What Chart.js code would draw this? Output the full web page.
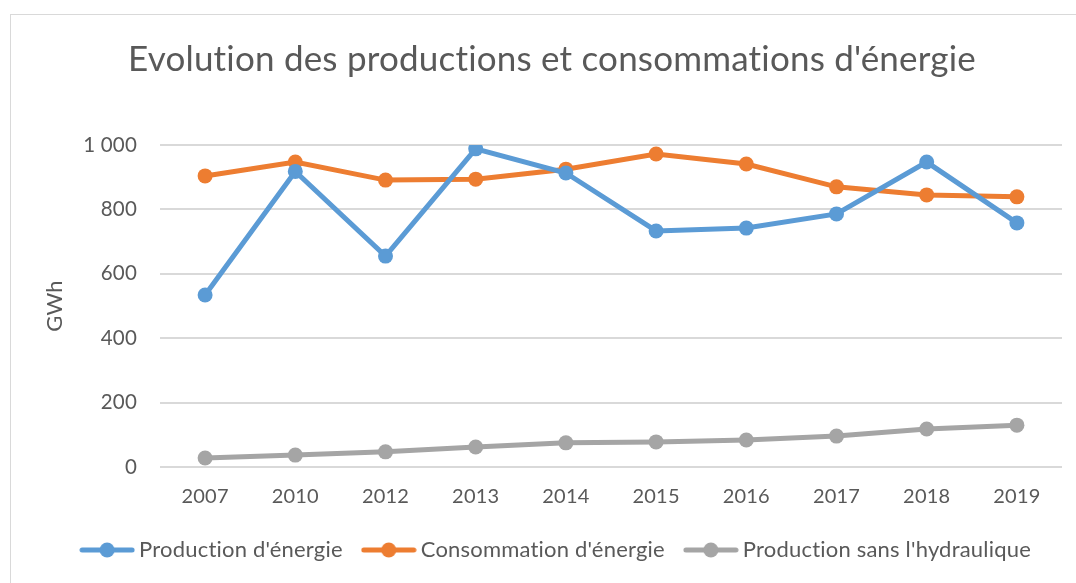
<!DOCTYPE html>
<html>
<head>
<meta charset="utf-8">
<script src="https://cdn.jsdelivr.net/npm/chart.js@4.4.0/dist/chart.umd.min.js"></script>
<style>
  html, body { margin: 0; padding: 0; background: #fff; }
  #wrap { position: relative; width: 1076px; height: 583px; }
  #frame { position: absolute; left: 10px; top: 14px; width: 1080px; height: 600px; border: 1px solid #d9d9d9; box-sizing: border-box; }
  #chart { position: absolute; left: 0; top: 0; }
</style>
</head>
<body>
<div id="wrap">
  <div id="frame"></div>
  <canvas id="chart" width="1076" height="583"></canvas>
</div>
<script>
// données
const years = ['2007', '2010', '2012', '2013', '2014', '2015', '2016', '2017', '2018', '2019'];
const production = [534, 918, 655, 988, 913, 733, 742, 786, 947, 758];
const consommation = [904, 947, 891, 894, 925, 972, 941, 870, 845, 839];
const productionSansHydro = [28, 37, 47, 62, 75, 78, 84, 96, 118, 130];

const seriesNames = ["Production d'énergie", "Consommation d'énergie", "Production sans l'hydraulique"];
const colors = ['#5B9BD5', '#ED7D31', '#A5A5A5'];

const txt = '#595959';
const fontName = 'Lato';

// petit dessin ligne + rond pour la légende
function legendMark(color) {
  const c = document.createElement('canvas');
  c.width = 56;
  c.height = 16;
  const g = c.getContext('2d');
  g.strokeStyle = color;
  g.lineWidth = 5;
  g.lineCap = 'round';
  g.beginPath();
  g.moveTo(3, 8);
  g.lineTo(53, 8);
  g.stroke();
  g.fillStyle = color;
  g.beginPath();
  g.arc(28, 8, 7.5, 0, Math.PI * 2);
  g.fill();
  return c;
}

function makeSet(label, data, color) {
  return {
    label: label,
    data: data,
    borderColor: color,
    backgroundColor: color,
    borderWidth: 5,
    pointRadius: 7.5,
    pointHoverRadius: 7.5,
    pointBackgroundColor: color,
    pointBorderWidth: 0,
    pointStyle: 'circle',
    tension: 0,
  };
}

// pas de ligatures (ti, fi...) : un petit espacement suffit
const noLigatures = {
  id: 'noLigatures',
  beforeInit: function (ch) { ch.ctx.letterSpacing = '0.2px'; },
  beforeDraw: function (ch) { ch.ctx.letterSpacing = '0.2px'; },
};

const ctx = document.getElementById('chart');
const chart = new Chart(ctx, {
  type: 'line',
  data: {
    labels: years,
    datasets: [
      makeSet(seriesNames[0], production, colors[0]),
      makeSet(seriesNames[1], consommation, colors[1]),
      makeSet(seriesNames[2], productionSansHydro, colors[2]),
    ],
  },
  plugins: [noLigatures],
  options: {
    responsive: false,
    animation: false,
    layout: { padding: { left: 42, right: 14, top: 0, bottom: 12 } },
    scales: {
      x: {
        offset: true,
        grid: { display: false },
        border: { display: false },
        ticks: { color: txt, font: { family: fontName, size: 20 }, padding: 10 },
        afterFit: function (scale) { scale.height = 47; },
      },
      y: {
        min: 0,
        max: 1000,
        grid: { color: '#d9d9d9', lineWidth: 2, drawTicks: false },
        border: { display: false },
        ticks: {
          stepSize: 200,
          color: txt,
          padding: 23,
          font: { family: fontName, size: 20.5 },
          callback: function (v) { return String(v).replace(/\B(?=(\d{3})+(?!\d))/g, ' '); },
        },
        title: { display: true, text: 'GWh', color: txt, font: { family: fontName, size: 22 }, padding: { top: 0 } },
        afterFit: function (scale) { scale.width = 118; },
      },
    },
    plugins: {
      title: {
        display: true,
        text: "Evolution des productions et consommations d'énergie",
        color: txt,
        font: { family: fontName, size: 35, weight: 'normal' },
        padding: { top: 39, bottom: 64 },
      },
      legend: {
        position: 'bottom',
        labels: {
          color: txt,
          font: { family: fontName, size: 22 },
          usePointStyle: true,
          pointStyleWidth: 42,
          padding: 25,
          generateLabels: function (ch) {
            return ch.data.datasets.map(function (ds, i) {
              return {
                text: ds.label,
                fillStyle: ds.borderColor,
                strokeStyle: ds.borderColor,
                lineWidth: 0,
                pointStyle: legendMark(ds.borderColor),
                fontColor: txt,
                hidden: false,
                datasetIndex: i,
              };
            });
          },
        },
      },
      tooltip: { enabled: false },
    },
  },
});
</script>
</body>
</html>
